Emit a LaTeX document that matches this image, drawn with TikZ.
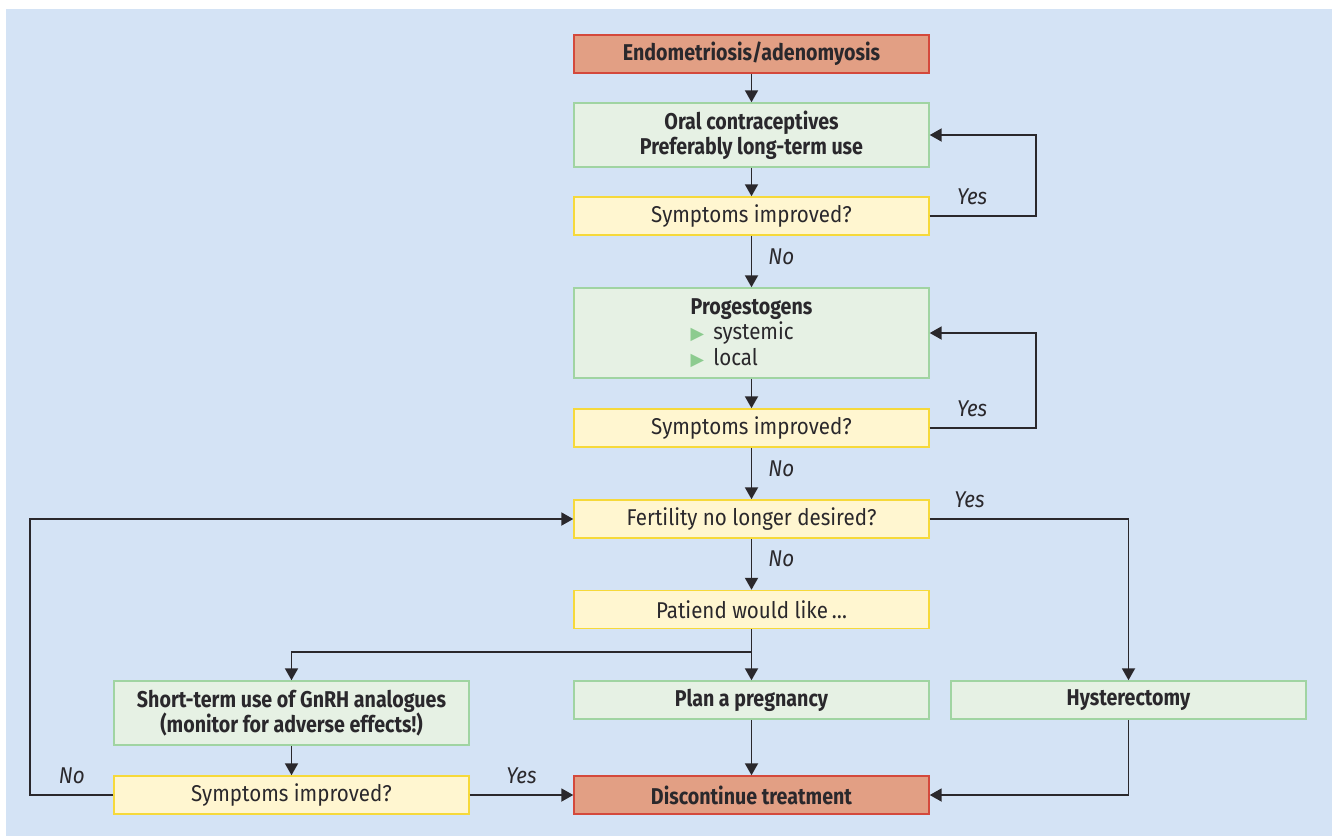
\documentclass[tikz,border=0pt]{standalone}
\usepackage{fontspec}
\setmainfont{Fira Sans}[FakeStretch=0.9,BoldFeatures={FakeStretch=0.86}]
\newfontfamily\symfont{DejaVu Sans}
\usetikzlibrary{arrows.meta}
\definecolor{bgblue}{HTML}{D4E3F5}
\definecolor{redfill}{HTML}{E29F84}
\definecolor{redline}{HTML}{D4493C}
\definecolor{greenfill}{HTML}{E6F1E4}
\definecolor{greenline}{HTML}{A0D4A2}
\definecolor{yellowfill}{HTML}{FFF6D0}
\definecolor{yellowline}{HTML}{F6D93A}
\definecolor{linegray}{HTML}{2A282C}
\definecolor{bulletgreen}{HTML}{8CCB8F}
\newcommand{\bul}{{\color{bulletgreen}\symfont\fontsize{10}{10}\selectfont ▶}\hspace{0.4em}}
\tikzset{
box/.style={draw,line width=0.85pt,minimum width=7.1cm,minimum height=0.76cm,
 inner sep=0pt,align=center,text=linegray,font=\fontsize{13}{14.4}\selectfont},
redbox/.style={box,fill=redfill,draw=redline,font=\fontsize{13}{14.4}\selectfont\bfseries},
greenbox/.style={box,fill=greenfill,draw=greenline,font=\fontsize{13}{14.4}\selectfont\bfseries},
askbox/.style={box,fill=yellowfill,draw=yellowline},
flow/.style={line width=1.1pt,draw=linegray,-{Triangle[length=0.24cm,width=0.26cm]}},
lbl/.style={font=\fontsize{13}{14.4}\selectfont\itshape,text=linegray,inner sep=2pt}
}
\begin{document}
\begin{tikzpicture}[x=0.02cm,y=-0.02cm]
\useasboundingbox(0,0)rectangle(1332,836);
%background
\fill[bgblue](6,9)rectangle(1332,836);
%main column
\node[redbox](endo)at(751.5,54){Endometriosis/adenomyosis};
\node[greenbox,minimum height=1.28cm](oral)at(751.5,135){Oral contraceptives\\Preferably long-term use};
\node[askbox](ask1)at(751.5,216){Symptoms improved?};
\node[greenbox,minimum height=1.8cm,align=left](prog)at(751.5,333)
{Progestogens\\\textmd{\bul systemic}\\\textmd{\bul local}};
\node[askbox](ask2)at(751.5,428){Symptoms improved?};
\node[askbox](fert)at(751.5,519){Fertility no longer desired?};
\node[askbox](wish)at(751.5,609.5){Patiend would like\,\dots};
%bottom row
\node[greenbox,minimum height=1.28cm](gnrh)at(291.5,713){Short-term use of GnRH analogues\\(monitor for adverse effects!)};
\node[greenbox](plan)at(751.5,700){Plan a pregnancy};
\node[greenbox](hyst)at(1128.5,700){Hysterectomy};
\node[askbox](ask3)at(291.5,795){Symptoms improved?};
\node[redbox](stop)at(751.5,795){Discontinue treatment};
%arrows
\draw[flow](endo)--(oral);
\draw[flow](oral)--(ask1);
\draw[flow](ask1.east)--node[lbl,above=4pt,pos=0.4]{Yes}++(106,0)|-(oral.east);
\draw[flow](ask1)--node[lbl,right=0.25cm,pos=0.4]{No}(prog);
\draw[flow](prog)--(ask2);
\draw[flow](ask2.east)--node[lbl,above=4pt,pos=0.4]{Yes}++(106,0)|-(prog.east);
\draw[flow](ask2)--node[lbl,right=0.25cm,pos=0.4]{No}(fert);
\draw[flow](fert.east)-|node[lbl,above=4pt,pos=0.1]{Yes}(hyst.north);
\draw[flow](fert)--node[lbl,right=0.25cm,pos=0.4]{No}(wish);
\draw[flow](wish)--(plan);
\draw[flow](wish.south)++(0,23)-|(gnrh.north);
\draw[flow](gnrh)--(ask3);
\draw[flow](ask3)--node[lbl,above=4pt]{Yes}(stop);
\draw[flow](ask3.west)--node[lbl,above=4pt]{No}++(-83,0)|-(fert.west);
\draw[flow](plan)--(stop);
\draw[flow](hyst.south)|-(stop.east);
\end{tikzpicture}
\end{document}
